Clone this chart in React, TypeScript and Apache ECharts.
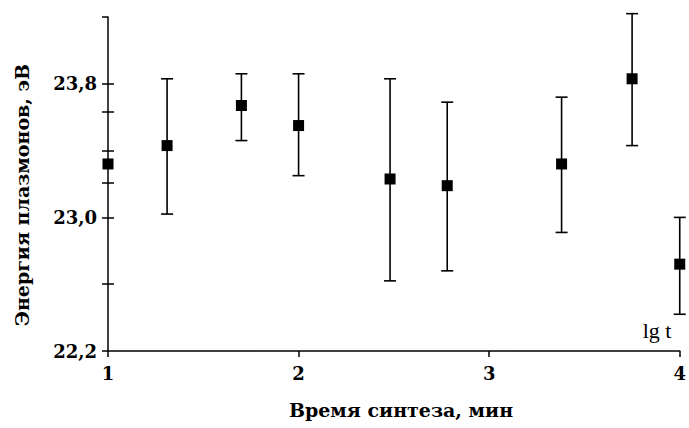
import React, { useEffect, useRef } from "react";
import * as echarts from "echarts";

// lg t values
const xValues: number[] = [1.0, 1.31, 1.7, 2.0, 2.48, 2.78, 3.38, 3.75, 4.0];
// plasmon energy, eV
const yValues: number[] = [23.32, 23.43, 23.67, 23.55, 23.23, 23.19, 23.32, 23.83, 22.72];
const yLow: (number | null)[] = [null, 23.02, 23.46, 23.25, 22.62, 22.68, 22.91, 23.43, 22.42];
const yHigh: (number | null)[] = [null, 23.83, 23.86, 23.86, 23.83, 23.69, 23.72, 24.22, 23.0];

const xTicks: number[] = [1, 2, 3, 4];
const yLabelValues: number[] = [22.2, 23.0, 23.8];
const yTickValues: number[] = [22.2, 22.6, 23.0, 23.21, 23.4, 23.63, 23.8, 24.2];

const xTitle = "Время синтеза, мин";
const yTitle = "Энергия плазмонов, эВ";
const unitLabel = "lg t";

const SERIF = "DejaVu Serif";

export default function App() {
  const ref = useRef<HTMLDivElement>(null);
  useEffect(() => {
    if (!ref.current) return;
    const chart = echarts.init(ref.current, null, { renderer: "svg" });
    const errData = xValues
      .map((x, i) => [x, yLow[i], yHigh[i]])
      .filter((d) => d[1] != null && d[2] != null);
    const fmt = (v: number) => v.toFixed(1).replace(".", ",");
    chart.setOption({
      animation: false,
      backgroundColor: "#ffffff",
      grid: { left: 108, right: 9, top: 17, bottom: 77 },
      xAxis: {
        type: "value",
        min: 1,
        max: 4,
        interval: 1,
        splitLine: { show: false },
        axisLine: { show: true, lineStyle: { color: "#000", width: 1.5 } },
        axisTick: { show: true, length: 6, customValues: xTicks, lineStyle: { color: "#000", width: 1.5 } },
        axisLabel: {
          customValues: xTicks,
          color: "#000",
          fontFamily: SERIF,
          fontWeight: "bold",
          fontSize: 18,
          margin: 13,
        },
      },
      yAxis: [
        {
          type: "value",
          min: 22.2,
          max: 24.2,
          splitLine: { show: false },
          axisLine: { show: true, lineStyle: { color: "#000", width: 1.5 } },
          axisTick: { show: true, length: 6, customValues: yTickValues, lineStyle: { color: "#000", width: 1.5 } },
          axisLabel: {
            customValues: yLabelValues,
            formatter: fmt,
            color: "#000",
            fontFamily: SERIF,
            fontWeight: "bold",
            fontSize: 18,
            margin: 11,
          },
        },
        {
          type: "value",
          min: 22.2,
          max: 24.2,
          position: "left",
          splitLine: { show: false },
          axisLine: { show: false },
          axisTick: {
            show: true,
            inside: true,
            length: 6,
            customValues: yTickValues.filter((v) => v !== 24.2 && v !== 22.2),
            lineStyle: { color: "#000", width: 1.5 },
          },
          axisLabel: { show: false },
        },
      ],
      graphic: [
        {
          type: "text",
          x: 22,
          y: 195,
          rotation: Math.PI / 2,
          style: {
            text: yTitle,
            fill: "#000",
            font: `bold 19px "${SERIF}"`,
            textAlign: "center",
            textVerticalAlign: "middle",
          },
        },
        {
          type: "text",
          x: 401,
          y: 410,
          style: {
            text: xTitle,
            fill: "#000",
            font: `bold 19px "${SERIF}"`,
            textAlign: "center",
            textVerticalAlign: "middle",
          },
        },
        {
          type: "text",
          x: 657,
          y: 330,
          style: {
            text: unitLabel,
            fill: "#000",
            font: `22px "Liberation Serif"`,
            textAlign: "center",
            textVerticalAlign: "middle",
          },
        },
      ],
      series: [
        {
          type: "custom",
          clip: false,
          z: 2,
          data: errData,
          encode: { x: 0, y: [1, 2] },
          renderItem: (params: any, api: any) => {
            const x = api.value(0);
            const lo = api.coord([x, api.value(1)]);
            const hi = api.coord([x, api.value(2)]);
            const w = 6;
            const st = { stroke: "#000", lineWidth: 1.6 };
            return {
              type: "group",
              children: [
                { type: "line", shape: { x1: lo[0], y1: lo[1], x2: hi[0], y2: hi[1] }, style: st },
                { type: "line", shape: { x1: lo[0] - w, y1: lo[1], x2: lo[0] + w, y2: lo[1] }, style: st },
                { type: "line", shape: { x1: hi[0] - w, y1: hi[1], x2: hi[0] + w, y2: hi[1] }, style: st },
              ],
            };
          },
        },
        {
          type: "scatter",
          z: 3,
          clip: false,
          symbol: "rect",
          symbolSize: 11,
          itemStyle: { color: "#000", opacity: 1 },
          data: xValues.map((x, i) => [x, yValues[i]]),
        },
      ],
    });
    return () => chart.dispose();
  }, []);
  return (
    <div
      ref={ref}
      style={{ position: "fixed", left: 0, top: 0, width: 689, height: 428, background: "#fff" }}
    />
  );
}
